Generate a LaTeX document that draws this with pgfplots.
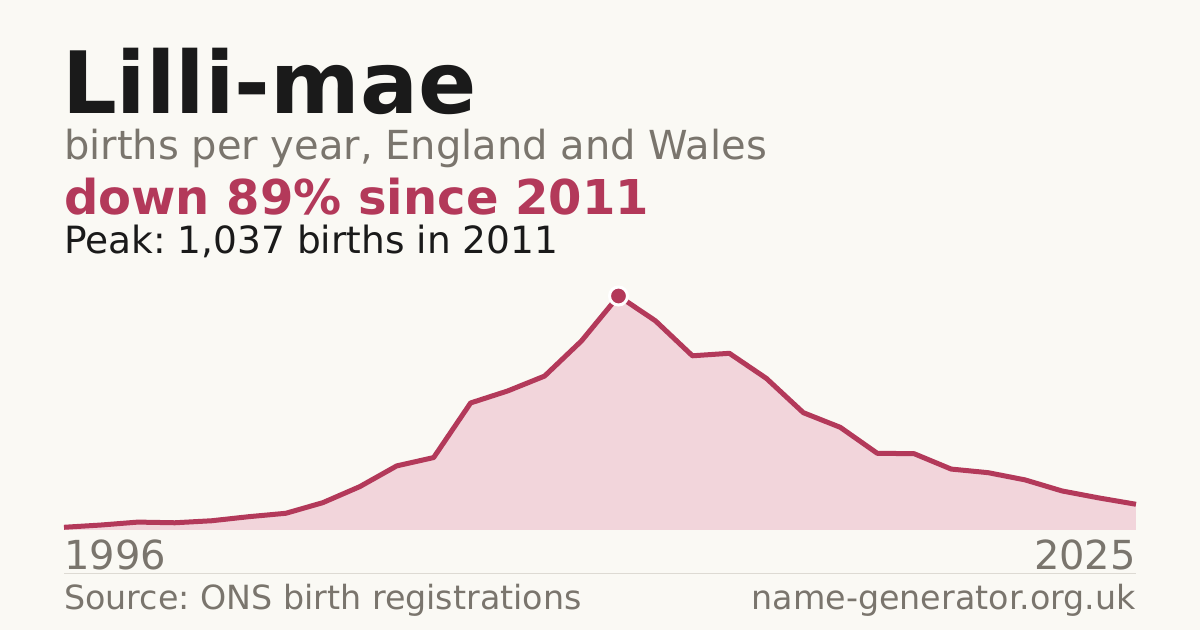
\documentclass[border=0pt]{standalone}
\usepackage{fontspec}
\setmainfont{DejaVu Sans}
\usepackage{pgfplots}
\usepackage{pgfplotstable}
\pgfplotsset{compat=1.18}

\definecolor{bg}{HTML}{FAF9F4}
\definecolor{ink}{HTML}{1A1A1A}
\definecolor{muted}{HTML}{7A756D}
\definecolor{accent}{HTML}{B3395A}
\definecolor{areafill}{HTML}{F2D5DB}
\definecolor{rule}{HTML}{DDDAD3}

\pgfplotstableread{
year births
1996 12
1997 22
1998 35
1999 32
2000 41
2001 59
2002 74
2003 121
2004 192
2005 284
2006 321
2007 563
2008 616
2009 682
2010 838
2011 1037
2012 927
2013 772
2014 783
2015 672
2016 520
2017 455
2018 340
2019 338
2020 270
2021 254
2022 222
2023 173
2024 142
2025 114
}\births

\begin{document}
\frenchspacing
\begin{tikzpicture}[x=1bp,y=1bp]
% canvas, 1 unit = 1 px of the reference, y measured from the bottom
\fill[bg] (0,0) rectangle (1200,630);

% header
\node[anchor=base west,inner sep=0pt,text=ink]
  at (62,516) {\fontsize{86bp}{86bp}\selectfont\bfseries Lilli-mae};
\node[anchor=base west,inner sep=0pt,text=muted]
  at (64,470) {\fontsize{40bp}{40bp}\selectfont births per year, England and Wales};
\node[anchor=base west,inner sep=0pt,text=accent]
  at (64,415) {\fontsize{48bp}{48bp}\selectfont\bfseries down 89\% since 2011};
\node[anchor=base west,inner sep=0pt,text=ink]
  at (64,376) {\fontsize{37.5bp}{37.5bp}\selectfont Peak: 1,037 births in 2011};

\begin{axis}[
  at={(64bp,100bp)}, anchor=south west,
  scale only axis, width=1072bp, height=234bp,
  xmin=1996, xmax=2025, ymin=0, ymax=1037,
  hide axis, clip=false,
]
  \addplot[draw=none, fill=areafill] table[x=year,y=births] {\births} \closedcycle;
  \addplot[accent, line width=5bp, line join=round] table[x=year,y=births] {\births};
  \addplot[only marks, mark=*, mark size=9bp,
    mark options={fill=accent, draw=white, line width=3bp}] coordinates {(2011,1037)};
\end{axis}

% x extremes
\node[anchor=base west,inner sep=0pt,text=muted]
  at (64,60) {\fontsize{40bp}{40bp}\selectfont 1996};
\node[anchor=base east,inner sep=0pt,text=muted]
  at (1136,60) {\fontsize{40bp}{40bp}\selectfont 2025};

% footer
\draw[rule, line width=1bp] (64,56) -- (1136,56);
\node[anchor=base west,inner sep=0pt,text=muted]
  at (64,20) {\fontsize{33.3bp}{33.3bp}\selectfont Source: ONS birth registrations};
\node[anchor=base east,inner sep=0pt,text=muted]
  at (1136,20) {\fontsize{33.3bp}{33.3bp}\selectfont name-generator.org.uk};
\end{tikzpicture}
\end{document}
